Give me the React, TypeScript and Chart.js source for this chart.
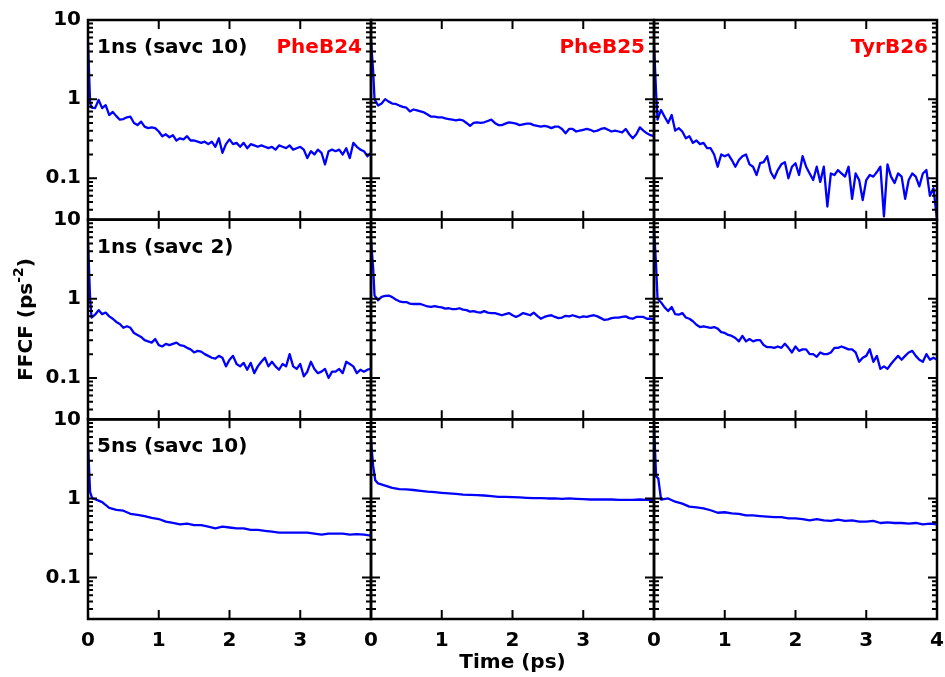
import React, { useEffect, useRef } from 'react';
import { Chart, registerables } from 'chart.js';

Chart.register(...registerables);

// ---------- data ----------
const T_FINE = [0, 0.03,
  0.05, 0.1, 0.15, 0.2, 0.25, 0.3, 0.35, 0.4, 0.45, 0.5,
  0.55, 0.6, 0.65, 0.7, 0.75, 0.8, 0.85, 0.9, 0.95, 1,
  1.05, 1.1, 1.15, 1.2, 1.25, 1.3, 1.35, 1.4, 1.45, 1.5,
  1.55, 1.6, 1.65, 1.7, 1.75, 1.8, 1.85, 1.9, 1.95, 2,
  2.05, 2.1, 2.15, 2.2, 2.25, 2.3, 2.35, 2.4, 2.45, 2.5,
  2.55, 2.6, 2.65, 2.7, 2.75, 2.8, 2.85, 2.9, 2.95, 3,
  3.05, 3.1, 3.15, 3.2, 3.25, 3.3, 3.35, 3.4, 3.45, 3.5,
  3.55, 3.6, 3.65, 3.7, 3.75, 3.8, 3.85, 3.9, 3.95, 4];

const T_COARSE = [0, 0.03, 0.06,
  0.1, 0.2, 0.3, 0.4, 0.5, 0.6, 0.7, 0.8, 0.9, 1,
  1.1, 1.2, 1.3, 1.4, 1.5, 1.6, 1.7, 1.8, 1.9, 2,
  2.1, 2.2, 2.3, 2.4, 2.5, 2.6, 2.7, 2.8, 2.9, 3,
  3.1, 3.2, 3.3, 3.4, 3.5, 3.6, 3.7, 3.8, 3.9, 4];

// 1ns (savc 10)
const PHEB24_1NS_S10 = [5.3, 0.9,
  0.78, 0.77, 0.98, 0.77, 0.84, 0.63, 0.69, 0.61, 0.55, 0.56,
  0.59, 0.6, 0.5, 0.47, 0.52, 0.45, 0.43, 0.44, 0.43, 0.39,
  0.34, 0.36, 0.33, 0.35, 0.30, 0.32, 0.31, 0.34, 0.30, 0.30,
  0.29, 0.28, 0.29, 0.27, 0.29, 0.25, 0.32, 0.21, 0.27, 0.31,
  0.27, 0.28, 0.25, 0.28, 0.24, 0.27, 0.26, 0.25, 0.26, 0.25,
  0.24, 0.25, 0.23, 0.26, 0.25, 0.24, 0.26, 0.23, 0.24, 0.25,
  0.23, 0.18, 0.22, 0.20, 0.23, 0.21, 0.15, 0.22, 0.23, 0.22,
  0.23, 0.20, 0.24, 0.18, 0.28, 0.25, 0.23, 0.22, 0.19, 0.21];
const PHEB25_1NS_S10 = [5.6, 2.3,
  1.0, 0.83, 0.88, 1.0, 0.93, 0.88, 0.87, 0.83, 0.80, 0.78,
  0.70, 0.74, 0.72, 0.70, 0.68, 0.64, 0.60, 0.60, 0.59, 0.59,
  0.57, 0.56, 0.55, 0.54, 0.55, 0.54, 0.50, 0.46, 0.50, 0.51,
  0.50, 0.51, 0.53, 0.55, 0.50, 0.47, 0.47, 0.49, 0.51, 0.50,
  0.49, 0.47, 0.48, 0.49, 0.49, 0.47, 0.46, 0.45, 0.46, 0.45,
  0.43, 0.45, 0.45, 0.42, 0.37, 0.42, 0.42, 0.39, 0.40, 0.41,
  0.42, 0.41, 0.39, 0.40, 0.42, 0.43, 0.41, 0.39, 0.40, 0.39,
  0.38, 0.42, 0.36, 0.32, 0.36, 0.44, 0.40, 0.37, 0.35, 0.34];
const TYRB26_1NS_S10 = [5.0, 1.2,
  0.55, 0.73, 0.60, 0.50, 0.63, 0.40, 0.43, 0.39, 0.32, 0.34,
  0.28, 0.30, 0.27, 0.28, 0.24, 0.24, 0.20, 0.14, 0.20, 0.19,
  0.20, 0.17, 0.14, 0.17, 0.19, 0.20, 0.15, 0.14, 0.11, 0.155,
  0.16, 0.19, 0.12, 0.10, 0.127, 0.15, 0.16, 0.10, 0.14, 0.155,
  0.11, 0.19, 0.14, 0.115, 0.095, 0.14, 0.09, 0.14, 0.044, 0.115,
  0.11, 0.127, 0.115, 0.105, 0.14, 0.055, 0.115, 0.095, 0.053, 0.095,
  0.11, 0.105, 0.12, 0.14, 0.033, 0.15, 0.105, 0.087, 0.115, 0.105,
  0.055, 0.095, 0.115, 0.105, 0.079, 0.115, 0.127, 0.06, 0.075, 0.03];

// 1ns (savc 2)
const PHEB24_1NS_S2 = [5.5, 1.0,
  0.58, 0.63, 0.72, 0.64, 0.67, 0.60, 0.56, 0.51, 0.48, 0.43,
  0.45, 0.43, 0.37, 0.35, 0.33, 0.30, 0.29, 0.28, 0.31, 0.26,
  0.25, 0.27, 0.26, 0.27, 0.28, 0.26, 0.255, 0.24, 0.23, 0.21,
  0.22, 0.215, 0.20, 0.19, 0.18, 0.175, 0.19, 0.18, 0.14, 0.17,
  0.19, 0.15, 0.14, 0.155, 0.127, 0.155, 0.115, 0.14, 0.16, 0.18,
  0.14, 0.16, 0.14, 0.127, 0.15, 0.14, 0.20, 0.14, 0.13, 0.15,
  0.105, 0.12, 0.16, 0.13, 0.115, 0.12, 0.13, 0.10, 0.12, 0.12,
  0.13, 0.115, 0.16, 0.15, 0.14, 0.115, 0.127, 0.12, 0.127, 0.13];
const PHEB25_1NS_S2 = [5.5, 2.5,
  1.1, 0.96, 1.06, 1.09, 1.1, 1.05, 0.98, 0.93, 0.91, 0.91,
  0.87, 0.86, 0.86, 0.86, 0.83, 0.80, 0.79, 0.81, 0.79, 0.78,
  0.75, 0.76, 0.74, 0.74, 0.76, 0.73, 0.72, 0.69, 0.70, 0.68,
  0.67, 0.70, 0.67, 0.66, 0.66, 0.64, 0.62, 0.64, 0.66, 0.62,
  0.59, 0.62, 0.66, 0.64, 0.62, 0.67, 0.61, 0.56, 0.59, 0.61,
  0.62, 0.59, 0.57, 0.58, 0.61, 0.60, 0.62, 0.60, 0.58, 0.60,
  0.59, 0.61, 0.62, 0.60, 0.57, 0.54, 0.55, 0.57, 0.58, 0.58,
  0.59, 0.60, 0.57, 0.56, 0.59, 0.59, 0.59, 0.56, 0.56, 0.55];
const TYRB26_1NS_S2 = [8.0, 2.6,
  1.0, 0.90, 0.78, 0.70, 0.79, 0.64, 0.63, 0.66, 0.58, 0.56,
  0.52, 0.47, 0.44, 0.45, 0.44, 0.43, 0.44, 0.42, 0.38, 0.37,
  0.35, 0.34, 0.32, 0.29, 0.34, 0.29, 0.31, 0.29, 0.30, 0.30,
  0.26, 0.245, 0.245, 0.24, 0.25, 0.24, 0.27, 0.24, 0.21, 0.25,
  0.22, 0.23, 0.23, 0.20, 0.20, 0.185, 0.21, 0.20, 0.20, 0.21,
  0.24, 0.24, 0.25, 0.24, 0.23, 0.23, 0.21, 0.16, 0.18, 0.19,
  0.23, 0.16, 0.19, 0.13, 0.14, 0.13, 0.15, 0.17, 0.19, 0.17,
  0.19, 0.21, 0.22, 0.19, 0.17, 0.16, 0.20, 0.17, 0.18, 0.17];

// 5ns (savc 10)
const PHEB24_5NS_S10 = [5.0, 1.2, 1.0,
  0.98, 0.90, 0.76, 0.72, 0.70, 0.64, 0.62, 0.60, 0.57, 0.55,
  0.51, 0.49, 0.47, 0.48, 0.46, 0.46, 0.44, 0.42, 0.44, 0.43,
  0.42, 0.42, 0.40, 0.40, 0.39, 0.38, 0.37, 0.37, 0.37, 0.37,
  0.37, 0.36, 0.35, 0.36, 0.36, 0.36, 0.35, 0.355, 0.35, 0.34];
const PHEB25_5NS_S10 = [5.5, 2.6, 1.7,
  1.55, 1.45, 1.36, 1.31, 1.30, 1.28, 1.25, 1.22, 1.20, 1.18,
  1.16, 1.14, 1.12, 1.11, 1.10, 1.09, 1.07, 1.05, 1.05, 1.04,
  1.03, 1.02, 1.01, 1.01, 1.0, 1.0, 0.99, 1.0, 0.99, 0.98,
  0.97, 0.97, 0.97, 0.97, 0.96, 0.96, 0.96, 0.97, 0.96, 0.95];
const TYRB26_5NS_S10 = [8.5, 1.9, 1.8,
  0.97, 1.0, 0.91, 0.86, 0.79, 0.77, 0.75, 0.71, 0.66, 0.67,
  0.65, 0.64, 0.61, 0.61, 0.60, 0.59, 0.58, 0.58, 0.56, 0.56,
  0.55, 0.53, 0.55, 0.53, 0.52, 0.54, 0.52, 0.53, 0.51, 0.51,
  0.52, 0.49, 0.50, 0.49, 0.49, 0.48, 0.49, 0.47, 0.48, 0.47];

const RESIDUES = ['PheB24', 'PheB25', 'TyrB26'];
const RUNS = ['1ns (savc 10)', '1ns (savc 2)', '5ns (savc 10)'];
const ROW_TIMES = [T_FINE, T_FINE, T_COARSE];
const SERIES = [
  [PHEB24_1NS_S10, PHEB25_1NS_S10, TYRB26_1NS_S10],
  [PHEB24_1NS_S2, PHEB25_1NS_S2, TYRB26_1NS_S2],
  [PHEB24_5NS_S10, PHEB25_5NS_S10, TYRB26_5NS_S10],
];
const X_MIN = 0;
const X_MAX = 4;
const X_MAJOR = [0, 1, 2, 3, 4];
const Y_MIN = 0.03;
const Y_MAX = 10;
const Y_MAJOR = [0.1, 1, 10];
const Y_LABELS = ['0.1', '1', '10'];
const X_TITLE = 'Time (ps)';
const Y_TITLE_MAIN = 'FFCF (ps';
const Y_TITLE_SUP = '-2';
const Y_TITLE_END = ')';

const FONT = 'DejaVu Sans';

const panelPlugin = {
  id: 'panelPlugin',
  beforeDatasetDraw(chart: any, args: any) {
    const ds = chart.data.datasets[args.index];
    const xs = chart.scales[ds.xAxisID];
    const ys = chart.scales[ds.yAxisID];
    const ctx = chart.ctx;
    ctx.save();
    ctx.beginPath();
    ctx.rect(xs.left, ys.top, xs.right - xs.left, ys.bottom - ys.top);
    ctx.clip();
  },
  afterDatasetDraw(chart: any) {
    chart.ctx.restore();
  },
  afterDatasetsDraw(chart: any) {
    const ctx = chart.ctx;
    ctx.save();
    ctx.strokeStyle = '#000';
    ctx.lineCap = 'butt';
    for (let r = 0; r < 3; r++) {
      const ys = chart.scales['y' + r];
      for (let c = 0; c < 3; c++) {
        const xs = chart.scales['x' + c];
        const L = xs.left, R = xs.right, T = ys.top, B = ys.bottom;
        ctx.lineWidth = 2;
        ctx.beginPath();
        X_MAJOR.forEach((v) => {
          if (v === X_MIN || v === X_MAX) return;
          const px = xs.getPixelForValue(v);
          ctx.moveTo(px, T); ctx.lineTo(px, T + 9);
          ctx.moveTo(px, B); ctx.lineTo(px, B - 9);
        });
        for (let dec = 0.01; dec <= 10.0001; dec *= 10) {
          for (let k = 1; k <= 9; k++) {
            const v = dec * k;
            if (v < Y_MIN - 1e-9 || v > Y_MAX + 1e-9) continue;
            const py = ys.getPixelForValue(v);
            const len = k === 1 ? 9 : 5;
            ctx.moveTo(L, py); ctx.lineTo(L + len, py);
            ctx.moveTo(R, py); ctx.lineTo(R - len, py);
          }
        }
        ctx.stroke();
        ctx.lineWidth = 2.5;
        ctx.strokeRect(L, T, R - L, B - T);
      }
    }
    ctx.restore();
  },
  afterDraw(chart: any) {
    const ctx = chart.ctx;
    ctx.save();
    ctx.font = `bold 20px "${FONT}"`;
    ctx.textBaseline = 'alphabetic';
    for (let r = 0; r < 3; r++) {
      const ys = chart.scales['y' + r];
      const x0 = chart.scales['x0'];
      ctx.fillStyle = '#000';
      ctx.textAlign = 'left';
      ctx.fillText(RUNS[r], x0.left + 9, ys.top + 33);
      if (r === 0) {
        ctx.fillStyle = '#ff0000';
        ctx.textAlign = 'right';
        for (let c = 0; c < 3; c++) {
          const xs = chart.scales['x' + c];
          ctx.fillText(RESIDUES[c], xs.right - 9, ys.top + 33);
        }
      }
    }
    const yMid = chart.scales['y1'];
    const cy = (yMid.top + yMid.bottom) / 2;
    ctx.translate(27, cy);
    ctx.rotate(-Math.PI / 2);
    ctx.fillStyle = '#000';
    ctx.textAlign = 'left';
    ctx.textBaseline = 'middle';
    ctx.font = `bold 20px "${FONT}"`;
    const w1 = ctx.measureText(Y_TITLE_MAIN).width;
    const w3 = ctx.measureText(Y_TITLE_END).width;
    ctx.font = `bold 14px "${FONT}"`;
    const w2 = ctx.measureText(Y_TITLE_SUP).width;
    let x = -(w1 + w2 + w3) / 2;
    ctx.font = `bold 20px "${FONT}"`;
    ctx.fillText(Y_TITLE_MAIN, x, 0);
    x += w1;
    ctx.font = `bold 14px "${FONT}"`;
    ctx.fillText(Y_TITLE_SUP, x, -8);
    x += w2;
    ctx.font = `bold 20px "${FONT}"`;
    ctx.fillText(Y_TITLE_END, x, 0);
    ctx.restore();
  },
};

export default function App() {
  const ref = useRef<HTMLCanvasElement | null>(null);
  useEffect(() => {
    if (!ref.current) return;
    const tickFont = { family: FONT, weight: 'bold' as const, size: 20 };
    const scales: any = {};
    for (let c = 0; c < 3; c++) {
      scales['x' + c] = {
        type: 'linear',
        position: 'bottom',
        stack: 'cols',
        stackWeight: 1,
        min: X_MIN,
        max: X_MAX,
        grid: { display: false, drawTicks: false },
        border: { display: false },
        afterBuildTicks: (s: any) => {
          s.ticks = X_MAJOR.map((v) => ({ value: v }));
        },
        ticks: {
          color: '#000',
          font: tickFont,
          padding: 10,
          maxRotation: 0,
          autoSkip: false,
          callback: (v: any) => (v === X_MAX && c < 2 ? '' : String(v)),
        },
        title: c === 1
          ? { display: true, text: X_TITLE, color: '#000', font: tickFont, padding: { top: 0, bottom: 2 } }
          : { display: false },
        afterFit: (s: any) => { s.height = 58; s.paddingLeft = 0; s.paddingRight = 0; },
      };
    }
    // left stacks are placed in reverse order: define bottom row first
    for (let r = 2; r >= 0; r--) {
      scales['y' + r] = {
        type: 'logarithmic',
        position: 'left',
        stack: 'rows',
        stackWeight: 1,
        min: Y_MIN,
        max: Y_MAX,
        grid: { display: false, drawTicks: false },
        border: { display: false },
        afterBuildTicks: (s: any) => {
          s.ticks = Y_MAJOR.map((v) => ({ value: v }));
        },
        ticks: {
          color: '#000',
          font: tickFont,
          padding: 7,
          autoSkip: false,
          callback: (v: any) => {
            const i = Y_MAJOR.findIndex((m) => Math.abs(m - v) < 1e-9);
            return i >= 0 ? Y_LABELS[i] : '';
          },
        },
        afterFit: (s: any) => { s.width = 88; s.paddingTop = 0; s.paddingBottom = 0; },
      };
    }
    const datasets: any[] = [];
    for (let r = 0; r < 3; r++) {
      for (let c = 0; c < 3; c++) {
        const t = ROW_TIMES[r];
        const v = SERIES[r][c];
        datasets.push({
          label: `${RESIDUES[c]} ${RUNS[r]}`,
          data: t.map((tt, i) => ({ x: tt, y: v[i] })),
          xAxisID: 'x' + c,
          yAxisID: 'y' + r,
          borderColor: '#0000ff',
          borderWidth: 2.3,
          borderJoinStyle: 'round',
          pointRadius: 0,
          tension: 0,
          fill: false,
        });
      }
    }
    Chart.defaults.font.family = FONT;
    const chart = new Chart(ref.current, {
      type: 'line',
      data: { datasets },
      options: {
        animation: false,
        responsive: true,
        maintainAspectRatio: false,
        layout: { padding: { top: 20, right: 8, left: 0, bottom: 0 } },
        plugins: { legend: { display: false }, tooltip: { enabled: false }, title: { display: false } },
        scales,
      },
      plugins: [panelPlugin],
    } as any);
    return () => chart.destroy();
  }, []);
  return (
    <div style={{ position: 'fixed', left: 0, top: 0, width: 945, height: 677, background: '#fff' }}>
      <canvas ref={ref} />
    </div>
  );
}
